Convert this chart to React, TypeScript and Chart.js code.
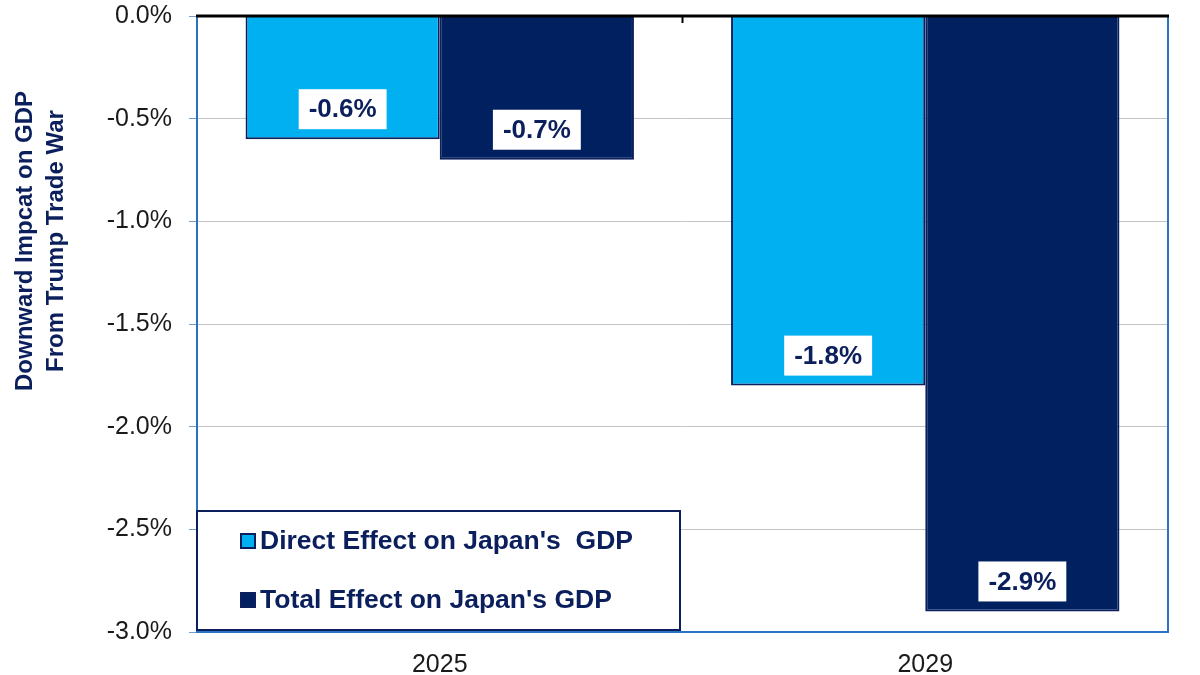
import React, { useEffect, useRef } from "react";
import { Chart, registerables } from "chart.js";

Chart.register(...registerables);

const categories = ["2025", "2029"];
const directEffect = [-0.6, -1.8];
const totalEffect = [-0.7, -2.9];
const seriesNames = ["Direct Effect on Japan's  GDP", "Total Effect on Japan's GDP"];
const yTitleLines = ["Downward Impcat on GDP", "From Trump Trade War"];

const LIGHT = "#00b0f0";
const DARK = "#002060";
const NAVY = "#0b1f5c";
const BLUE_BORDER = "#2a72c4";
const FONT = "'Liberation Sans', Arial, sans-serif";

const decor = {
  id: "decor",
  afterDatasetsDraw(chart: any) {
    const { ctx, chartArea } = chart;
    const { left, right, top, bottom } = chartArea;
    ctx.save();
    // plot frame
    ctx.strokeStyle = BLUE_BORDER;
    ctx.lineWidth = 2;
    ctx.beginPath();
    ctx.moveTo(left, top);
    ctx.lineTo(left, bottom);
    ctx.lineTo(right, bottom);
    ctx.lineTo(right, top);
    ctx.stroke();
    // zero line
    const y0 = chart.scales.y.getPixelForValue(0);
    ctx.strokeStyle = "#000";
    ctx.lineWidth = 3;
    ctx.beginPath();
    ctx.moveTo(left - 1, y0);
    ctx.lineTo(right + 1, y0);
    ctx.stroke();
    // category boundary tick
    const xs = chart.scales.x;
    const mid = (xs.getPixelForValue(0) + xs.getPixelForValue(1)) / 2;
    ctx.lineWidth = 2;
    ctx.beginPath();
    ctx.moveTo(mid, y0);
    ctx.lineTo(mid, y0 + 7);
    ctx.stroke();

    // data labels
    ctx.font = `bold 26px ${FONT}`;
    ctx.textAlign = "center";
    ctx.textBaseline = "middle";
    chart.data.datasets.forEach((ds: any, di: number) => {
      const meta = chart.getDatasetMeta(di);
      meta.data.forEach((bar: any, i: number) => {
        const v = ds.data[i];
        const txt = v.toFixed(1) + "%";
        const cy = bar.y - 30;
        const tw = ctx.measureText(txt).width;
        const w = tw + 20;
        const h = 40;
        ctx.fillStyle = "#fff";
        ctx.fillRect(bar.x - w / 2, cy - h / 2, w, h);
        ctx.fillStyle = NAVY;
        ctx.fillText(txt, bar.x, cy + 1);
      });
    });

    // legend box
    const lx = left;
    const ly = 511;
    const lw = 483;
    const lh = 119;
    ctx.fillStyle = "#fff";
    ctx.fillRect(lx, ly, lw, lh);
    ctx.strokeStyle = NAVY;
    ctx.lineWidth = 2;
    ctx.strokeRect(lx, ly, lw, lh);
    const rows = [541, 600];
    const cols = [LIGHT, DARK];
    ctx.font = `bold 26.5px ${FONT}`;
    ctx.textAlign = "left";
    rows.forEach((ry, k) => {
      ctx.fillStyle = cols[k];
      ctx.fillRect(241, ry - 7, 14, 14);
      ctx.strokeStyle = NAVY;
      ctx.lineWidth = 2;
      ctx.strokeRect(241, ry - 7, 14, 14);
      ctx.fillStyle = NAVY;
      ctx.fillText(seriesNames[k], 260, ry + 1);
    });
    ctx.restore();
  },
  afterDraw(chart: any) {
    const { ctx } = chart;
    ctx.save();
    ctx.fillStyle = NAVY;
    ctx.font = `bold 24px ${FONT}`;
    ctx.textAlign = "center";
    ctx.textBaseline = "middle";
    const xs = [25, 56];
    yTitleLines.forEach((t, k) => {
      ctx.save();
      ctx.translate(xs[k], 241);
      ctx.rotate(-Math.PI / 2);
      ctx.fillText(t, 0, 0);
      ctx.restore();
    });
    ctx.restore();
  },
};

export default function App() {
  const ref = useRef<HTMLCanvasElement>(null);
  useEffect(() => {
    const chart = new Chart(ref.current!, {
      type: "bar",
      data: {
        labels: categories,
        datasets: [
          {
            label: seriesNames[0],
            data: directEffect,
            backgroundColor: LIGHT,
            borderColor: NAVY,
            borderWidth: 2,
            categoryPercentage: 0.8,
            barPercentage: 1,
          },
          {
            label: seriesNames[1],
            data: totalEffect,
            backgroundColor: DARK,
            borderColor: NAVY,
            borderWidth: 2,
            categoryPercentage: 0.8,
            barPercentage: 1,
          },
        ],
      },
      options: {
        responsive: false,
        animation: false,
        layout: { padding: { top: 16, right: 32, left: 0, bottom: 0 } },
        plugins: {
          legend: { display: false },
          tooltip: { enabled: false },
          title: { display: false },
        },
        scales: {
          x: {
            grid: { display: false },
            border: { display: false },
            ticks: {
              padding: 10,
              color: "#1a1a1a",
              font: { family: FONT, size: 25 },
            },
            afterFit(scale: any) {
              scale.height = 43;
              scale.paddingLeft = 0;
              scale.paddingRight = 0;
            },
          },
          y: {
            min: -3,
            max: 0,
            border: { display: false },
            grid: {
              color: (c: any) => (c.tick && c.tick.value === 0 ? "rgba(0,0,0,0)" : "#c4c4c4"),
              tickColor: "#7a9cc8",
              tickLength: 8,
              lineWidth: 1,
            },
            ticks: {
              stepSize: 0.5,
              padding: 17,
              color: "#1a1a1a",
              font: { family: FONT, size: 25 },
              callback: (v: any) => Number(v).toFixed(1) + "%",
            },
            afterFit(scale: any) {
              scale.width = 197;
              scale.paddingTop = 0;
              scale.paddingBottom = 0;
            },
          },
        },
      },
      plugins: [decor],
    });
    return () => chart.destroy();
  }, []);
  return (
    <div style={{ position: "fixed", left: 0, top: 0, width: 1200, height: 675, background: "#fff" }}>
      <canvas ref={ref} width={1200} height={675} />
    </div>
  );
}
